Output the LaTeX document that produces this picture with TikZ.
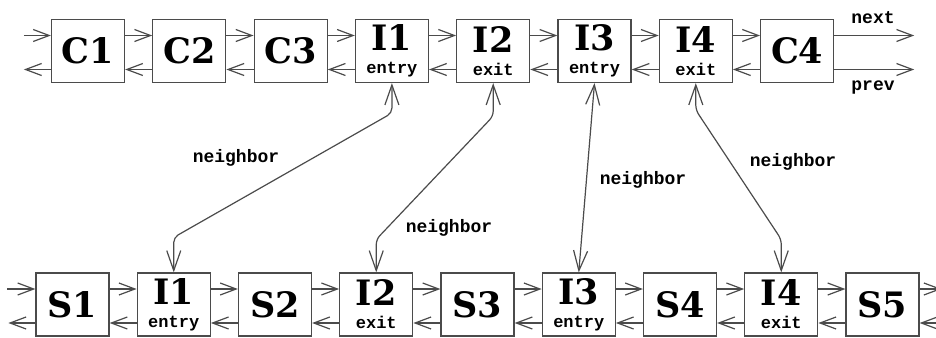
\documentclass[tikz,border=0pt]{standalone}
\usepackage{fontspec}
\setmonofont{Liberation Mono}
\newfontfamily\bigserif{DejaVu Serif}
\usepackage{tikz}
\usetikzlibrary{arrows.meta,positioning,calc}
\definecolor{edge}{RGB}{75,75,75}

\newcommand{\cellfont}{\fontsize{35}{35}\selectfont\bigserif\bfseries}
\newcommand{\celltag}[1]{\\[-12pt]{\fontsize{17}{17}\selectfont\ttfamily #1}}

\tikzset{
  cell/.style={draw=edge,line width=1.2pt,minimum width=73pt,minimum height=63pt,inner sep=0pt,align=center,font=\cellfont},
  link/.style={draw=edge,line width=1.2pt,-{Straight Barb[length=16pt,width=12pt]}},
  nbr/.style={draw=edge,line width=1.2pt,rounded corners=5pt,{Straight Barb[length=20pt,width=14pt]}-{Straight Barb[length=20pt,width=14pt]}},
  tag/.style={font=\fontsize{18}{18}\selectfont\ttfamily\bfseries}
}

\begin{document}
\begin{tikzpicture}[x=1pt,y=-1pt]
\useasboundingbox (0,0) rectangle (936,337);

% upper list
\foreach \name/\txt [count=\i from 0] in {c1/C1,c2/C2,c3/C3,ti1/{I1\celltag{entry}},ti2/{I2\celltag{exit}},ti3/{I3\celltag{entry}},ti4/{I4\celltag{exit}},c4/C4}
  \node[cell] (\name) at (88+101.3*\i,51) {\txt};

% lower list
\foreach \name/\txt [count=\i from 0] in {s1/S1,bi1/{I1\celltag{entry}},s2/S2,bi2/{I2\celltag{exit}},s3/S3,bi3/{I3\celltag{entry}},s4/S4,bi4/{I4\celltag{exit}},s5/S5}
  \node[cell] (\name) at (72.5+101.25*\i,304.5) {\txt};

% next / prev pointers
\foreach \a/\b in {c1/c2,c2/c3,c3/ti1,ti1/ti2,ti2/ti3,ti3/ti4,ti4/c4,s1/bi1,bi1/s2,s2/bi2,bi2/s3,s3/bi3,bi3/s4,s4/bi4,bi4/s5}{
  \draw[link] ([yshift=15.5pt]\a.east) -- ([yshift=15.5pt]\b.west);
  \draw[link] ([yshift=-18.5pt]\b.west) -- ([yshift=-18.5pt]\a.east);
}

% open ends
\coordinate (tnextin) at ([shift={(-27pt,15.5pt)}]c1.west);
\coordinate (tprevout) at ([shift={(-27pt,-18.5pt)}]c1.west);
\coordinate (tnextout) at ([shift={(80pt,15.5pt)}]c4.east);
\coordinate (tprevend) at ([shift={(80pt,-18.5pt)}]c4.east);
\coordinate (bnextin) at ([shift={(-28pt,15.5pt)}]s1.west);
\coordinate (bprevout) at ([shift={(-27pt,-18.5pt)}]s1.west);
\coordinate (bnextout) at ([shift={(22pt,15.5pt)}]s5.east);
\coordinate (bprevin) at ([shift={(22pt,-18.5pt)}]s5.east);

\draw[link] (tnextin) -- ([yshift=15.5pt]c1.west);
\draw[link] ([yshift=-18.5pt]c1.west) -- (tprevout);
\draw[link] ([yshift=15.5pt]c4.east) -- (tnextout);
\draw[link] ([yshift=-18.5pt]c4.east) -- (tprevend);
\draw[link] (bnextin) -- ([yshift=15.5pt]s1.west);
\draw[link] ([yshift=-18.5pt]s1.west) -- (bprevout);
\draw[link] ([yshift=15.5pt]s5.east) -- (bnextout);
\draw[link] (bprevin) -- ([yshift=-18.5pt]s5.east);

\node[tag] (next) at (873,18) {next};
\node[tag] (prev) at (873,88) {prev};

% neighbor links
\draw[nbr] (ti1.south) -- ([yshift=-30pt]ti1.south) -- ([yshift=35pt]bi1.north) -- (bi1.north);
\draw[nbr] (ti2.south) -- ([yshift=-33pt]ti2.south) -- ([yshift=33pt]bi2.north) -- (bi2.north);
\draw[nbr] (ti3.south) -- (bi3.north);
\draw[nbr] (ti4.south) -- ([yshift=-27pt]ti4.south) -- ([yshift=33pt]bi4.north) -- (bi4.north);

\node[tag] (n1) at (236,158) {neighbor};
\node[tag] (n2) at (449,228) {neighbor};
\node[tag] (n3) at (643,180) {neighbor};
\node[tag] (n4) at (793,162) {neighbor};
\end{tikzpicture}
\end{document}
